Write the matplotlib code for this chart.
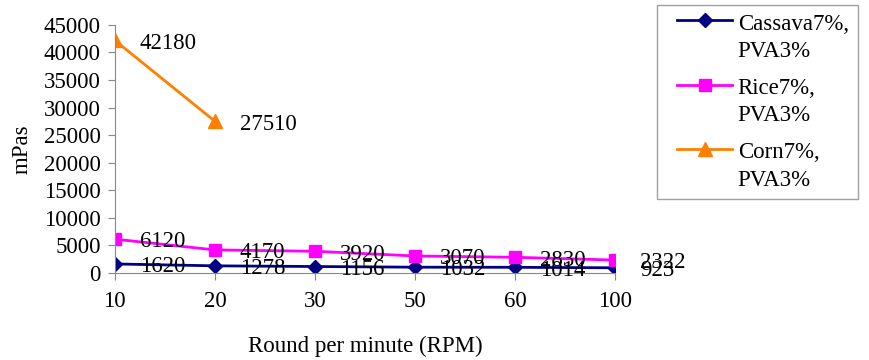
import matplotlib.pyplot as plt
from matplotlib.legend_handler import HandlerLine2D

plt.rcParams['font.family'] = ['Liberation Serif', 'DejaVu Serif']

rpm = ["10", "20", "30", "50", "60", "100"]
cassava = [1620, 1278, 1156, 1032, 1014, 923]
rice = [6120, 4170, 3920, 3070, 2830, 2322]
corn = [42180, 27510]

series = [
    ("Cassava7%,\nPVA3%", cassava, "#000080", "D", 7),
    ("Rice7%,\nPVA3%", rice, "#FF00FF", "s", 9),
    ("Corn7%,\nPVA3%", corn, "#FF8000", "^", 10),
]

FS = 16.5


class TopLine(HandlerLine2D):
    # put the legend line next to the first text line, like the original
    def create_artists(self, legend, orig_handle, xdescent, ydescent,
                       width, height, fontsize, trans):
        return super().create_artists(legend, orig_handle, xdescent,
                                      ydescent - 25, width, height,
                                      fontsize, trans)


fig = plt.figure(figsize=(8.7, 3.6), dpi=100)
ax = fig.add_axes([0.132, 0.242, 0.575, 0.689])

for name, vals, color, mk, ms in series:
    xs = list(range(len(vals)))
    ax.plot(xs, vals, color=color, marker=mk, markersize=ms, lw=2, label=name)
    for x, v in zip(xs, vals):
        ax.annotate(str(v), (x, v), xytext=(18, -2), textcoords="offset points",
                    ha="left", va="center", fontsize=FS, annotation_clip=False)

ax.set_xlim(0, len(rpm) - 1)
ax.set_ylim(0, 45000)
ax.set_yticks(range(0, 45001, 5000))
ax.set_xticks(range(len(rpm)))
ax.set_xticklabels(rpm)
ax.tick_params(labelsize=FS, color="#888888", length=5)
ax.tick_params(axis="x", pad=8)
ax.tick_params(axis="y", pad=5)
for s in ["top", "right"]:
    ax.spines[s].set_visible(False)
for s in ["left", "bottom"]:
    ax.spines[s].set_color("#888888")

ax.set_ylabel("mPas", fontsize=FS)
ax.set_xlabel("Round per minute (RPM)", fontsize=FS, labelpad=17)
ax.yaxis.set_label_coords(-0.165, 0.5)

leg = fig.legend(loc="upper left", bbox_to_anchor=(0.755, 0.986), fontsize=FS,
                 frameon=True, fancybox=False, edgecolor="#888888",
                 handlelength=2.9, labelspacing=0.71, borderpad=0.38,
                 handletextpad=0.25, borderaxespad=0,
                 handler_map={plt.Line2D: TopLine(xpad=0.5)})
leg.get_frame().set_linewidth(1)
for t in leg.get_texts():
    t.set_linespacing(1.38)

fig.savefig("out.png", dpi=100)
